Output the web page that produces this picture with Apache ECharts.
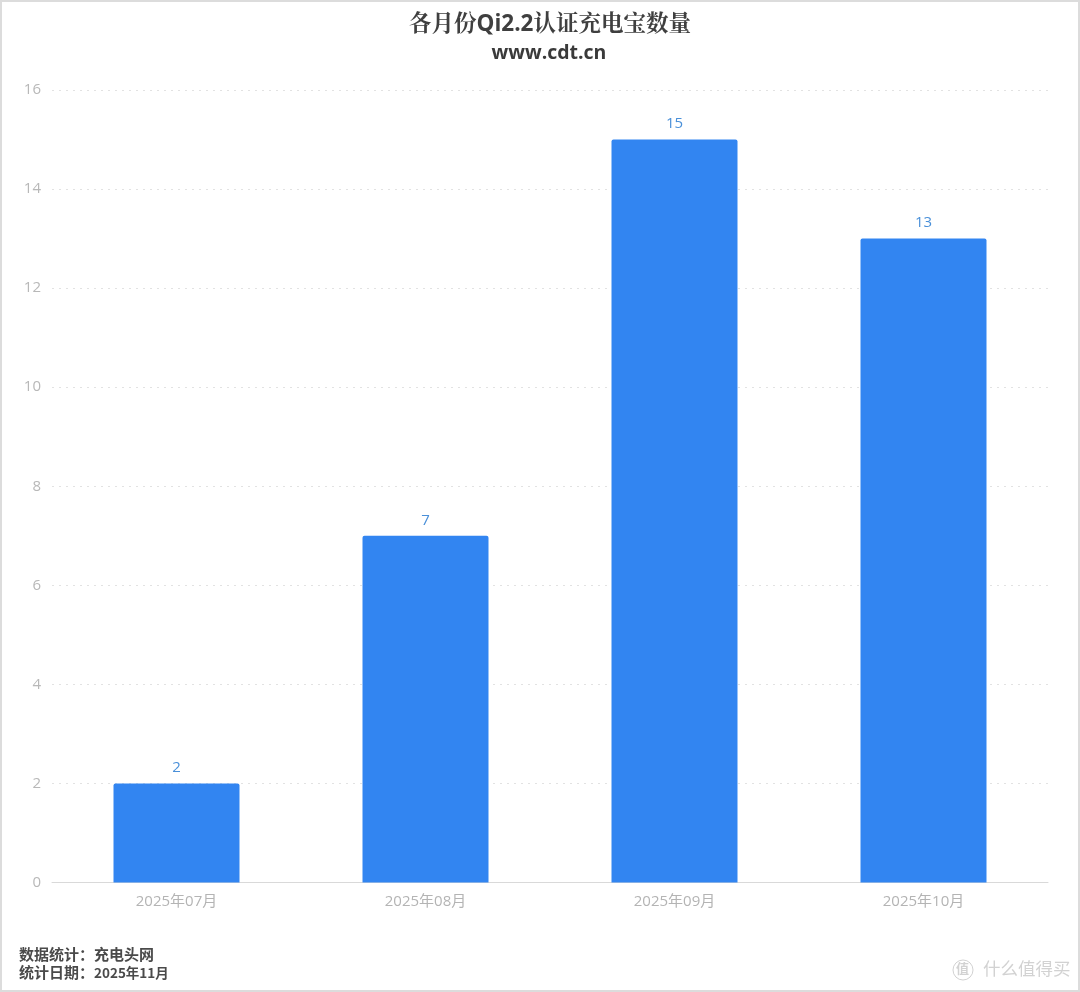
<!DOCTYPE html>
<html><head><meta charset="utf-8">
<style>html,body{margin:0;padding:0;background:#fff}#c{width:1080px;height:992px}</style>
<script src="https://cdn.jsdelivr.net/npm/echarts@6/dist/echarts.min.js"></script>
</head><body><div id="c"></div>
<script>
const categories = ['2025年07月','2025年08月','2025年09月','2025年10月'];
const counts = [2,7,15,13];
const titleText = '各月份Qi2.2认证充电宝数量';
const subtitleText = 'www.cdt.cn';
const cjk = '"Noto Sans CJK SC","Open Sans",sans-serif';
const chart = echarts.init(document.getElementById('c'),null,{renderer:'canvas'});
chart.setOption({
  animation:false,
  backgroundColor:'#fff',
  grid:{left:52,right:32,top:90,bottom:109.5,containLabel:false},
  xAxis:{type:'category',data:categories,
    axisLine:{lineStyle:{color:'#d9d9d9',width:1}},axisTick:{show:false},
    axisLabel:{color:'#b4b4b4',fontSize:15,fontFamily:'"Open Sans","Noto Sans CJK SC",sans-serif',margin:12}},
  yAxis:{type:'value',min:0,max:16,interval:2,
    axisLine:{show:false},axisTick:{show:false},
    axisLabel:{color:'#b8b8b8',fontSize:15,fontFamily:'"Open Sans",sans-serif',margin:11,padding:[0,0,3,0]},
    splitLine:{lineStyle:{color:'#e2e2e2',type:[2,5],width:1}}},
  series:[{type:'bar',data:counts,barWidth:126,
    itemStyle:{color:'#3285f1',borderRadius:[2,2,0,0]},
    label:{show:true,position:'top',distance:8,color:'#4a90d9',fontSize:15,fontFamily:'"Open Sans",sans-serif'}}],
  graphic:[
    {type:'rect',silent:true,z:0,shape:{x:1,y:1,width:1078,height:990},style:{fill:'none',stroke:'#dcdcdc',lineWidth:2}},
    {type:'text',x:550,y:25,style:{text:titleText,fill:'#3f3f3f',align:'center',verticalAlign:'middle',font:'bold 22.5px "Open Sans","Noto Serif CJK SC","Noto Sans CJK SC",serif'}},
    {type:'text',x:549,y:53,style:{text:subtitleText,fill:'#3a3a3a',align:'center',verticalAlign:'middle',font:'bold 19.5px "Open Sans",sans-serif'}},
    {type:'text',left:19,top:947,style:{text:'数据统计：充电头网',fill:'#4a4a4a',font:'bold 15px '+cjk}},
    {type:'text',left:19,top:965,style:{text:'统计日期：',fill:'#4a4a4a',font:'bold 15px '+cjk}},
    {type:'text',left:94,top:966,style:{text:'2025年11月',fill:'#4a4a4a',font:'bold 13.5px '+cjk}},
    {type:'text',left:983,top:960,style:{text:'什么值得买',fill:'#d2d2d2',font:'17.5px '+cjk}},
    {type:'circle',silent:true,shape:{cx:963,cy:970,r:10},style:{fill:'none',stroke:'#d2d2d2',lineWidth:1}},
    {type:'text',left:956,top:962,style:{text:'值',fill:'#d2d2d2',font:'bold 13px '+cjk}}
  ]
});
</script></body></html>
